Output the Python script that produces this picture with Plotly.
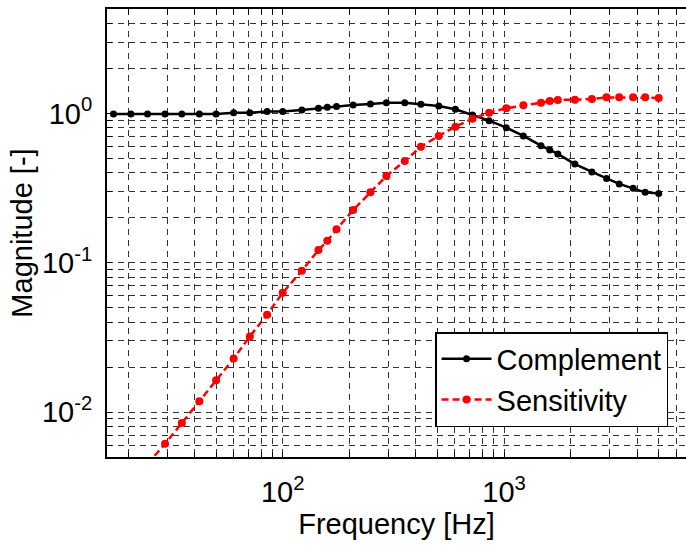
import numpy as np
import plotly.graph_objects as go

# ---- data ----
freq_hz = [17.2, 20.6, 24.5, 29.4, 35, 42, 50, 60, 71, 85, 100, 122, 145, 159, 175,
           208, 249, 294, 356, 421, 507, 603, 720, 856, 1024, 1223, 1469, 1609, 1750,
           2089, 2494, 2904, 3314, 3831, 4343, 5000]

complement = [0.99, 0.99, 0.99, 0.99, 0.99, 0.99, 0.99, 1.01, 1.01, 1.03, 1.03, 1.054,
              1.082, 1.10, 1.11, 1.138, 1.156, 1.18, 1.18, 1.15, 1.12, 1.065, 0.976,
              0.894, 0.802, 0.706, 0.608, 0.569, 0.535, 0.458, 0.405, 0.367, 0.337,
              0.315, 0.296, 0.291]

sensitivity = [0.0023, 0.0032, 0.0045, 0.00613, 0.00844, 0.0118, 0.0163, 0.0228, 0.0321,
               0.0449, 0.063, 0.0884, 0.1216, 0.1403, 0.1674, 0.2254, 0.296, 0.381, 0.48,
               0.598, 0.706, 0.815, 0.921, 1.011, 1.082, 1.133, 1.18, 1.21, 1.23, 1.235,
               1.25, 1.28, 1.28, 1.28, 1.28, 1.27]

series_names = ["Complement", "Sensitivity"]

x_grid_vals = [20, 30, 40, 50, 60, 70, 80, 90, 100, 200, 300, 400, 500, 600, 700, 800,
               900, 1000, 2000, 3000, 4000, 5000, 6000]
x_label_map = {100: "10<sup>2</sup>", 1000: "10<sup>3</sup>"}

y_grid_vals = [0.006, 0.007, 0.008, 0.009, 0.01, 0.02, 0.03, 0.04, 0.05, 0.06, 0.07, 0.08,
               0.09, 0.1, 0.2, 0.3, 0.4, 0.5, 0.6, 0.7, 0.8, 0.9, 1, 2, 3, 4]
y_label_map = {0.01: "10<sup>-2</sup>", 0.1: "10<sup>-1</sup>", 1: "10<sup>0</sup>"}

x_title = "Frequency [Hz]"
y_title = "Magnitude [-]"

x_range_hz = [16.07, 6640]
y_range_val = [0.005, 5]

# ---- figure ----
FONT = "Liberation Sans, Arial, Helvetica, sans-serif"
FS = 29

fig = go.Figure()
fig.add_trace(go.Scatter(
    x=freq_hz, y=complement, name=series_names[0], mode="lines+markers",
    line=dict(color="black", width=2.5),
    marker=dict(color="black", size=7, symbol="circle"),
))
fig.add_trace(go.Scatter(
    x=freq_hz, y=sensitivity, name=series_names[1], mode="lines+markers",
    line=dict(color="#ff0000", width=2.5, dash="7px,4px"),
    marker=dict(color="#ff0000", size=8, symbol="circle"),
))

x_text = [x_label_map.get(v, "") for v in x_grid_vals]
y_text = [y_label_map.get(v, "") for v in y_grid_vals]

grid_common = dict(
    showgrid=True, gridcolor="#333333", gridwidth=1, griddash="6px,5px",
    ticks="inside", ticklen=5, tickcolor="black", tickwidth=1,
    showline=True, linecolor="black", linewidth=2,
    zeroline=False,
    tickfont=dict(family=FONT, size=FS, color="black"),
)

fig.update_xaxes(
    type="log",
    range=[np.log10(x_range_hz[0]), np.log10(x_range_hz[1])],
    tickmode="array", tickvals=x_grid_vals, ticktext=x_text,
    mirror="allticks", ticklabelstandoff=8,
    title=dict(text=x_title, font=dict(family=FONT, size=FS, color="black"), standoff=0),
    **grid_common,
)
fig.update_yaxes(
    type="log",
    range=[np.log10(y_range_val[0]), np.log10(y_range_val[1])],
    tickmode="array", tickvals=y_grid_vals, ticktext=y_text,
    mirror=False, ticklabelstandoff=7,
    title=dict(text=y_title, font=dict(family=FONT, size=FS, color="black"), standoff=1),
    **grid_common,
)

fig.update_layout(
    width=686, height=545,
    margin=dict(l=107, r=0, t=9, b=88),
    paper_bgcolor="white", plot_bgcolor="white",
    font=dict(family=FONT, size=FS, color="black"),
    showlegend=True,
    legend=dict(
        x=0.969, y=0.279, xanchor="right", yanchor="top",
        bgcolor="white", bordercolor="black", borderwidth=1.5,
        font=dict(family=FONT, size=FS, color="black"),
        tracegroupgap=0, itemwidth=50,
    ),
)

fig.write_html("out.html", config={"displayModeBar": False},
               post_script="document.body.style.margin='0px';")
